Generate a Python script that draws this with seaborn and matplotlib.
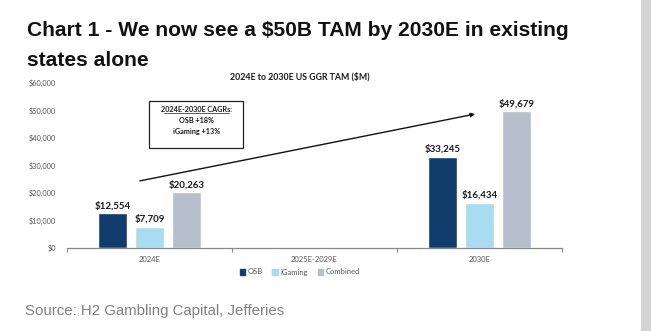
import matplotlib
matplotlib.use("Agg")
import matplotlib.pyplot as plt
import matplotlib.patches as mpatches
import matplotlib.ticker as mticker
import seaborn as sns
import pandas as pd

# Data ($M)
periods = ["2024E", "2025E-2029E", "2030E"]
segments = ["OSB", "iGaming", "Combined"]
osb = [12554, None, 33245]
igaming = [7709, None, 16434]
combined = [20263, None, 49679]
y_ticks = [0, 10000, 20000, 30000, 40000, 50000, 60000]

colors = {"OSB": "#113d6c", "iGaming": "#a8dcf1", "Combined": "#b5bfcb"}

rows = []
for seg, vals in zip(segments, [osb, igaming, combined]):
    for p, v in zip(periods, vals):
        if v is not None:
            rows.append({"period": p, "segment": seg, "value": v})
df = pd.DataFrame(rows)

sns.set_theme(style="white")
plt.rcParams["font.family"] = ["Lato", "DejaVu Sans"]

fig = plt.figure(figsize=(6.51, 3.31), dpi=100)
fig.patch.set_facecolor("white")
ax = fig.add_axes([0.1029, 0.2508, 0.7604, 0.4985])

sns.barplot(data=df, x="period", y="value", hue="segment", order=periods,
            hue_order=segments, palette=colors, width=0.67, gap=0.2,
            saturation=1, ax=ax, legend=False)

for cont in ax.containers:
    ax.bar_label(cont, labels=[f"${v:,.0f}" for v in cont.datavalues],
                 padding=2, fontsize=7, fontweight="bold", color="#1a1a1a")

ax.set_xlim(-0.5, 2.5)
ax.set_ylim(0, 60000)
ax.set_yticks(y_ticks)
ax.yaxis.set_major_formatter(mticker.FuncFormatter(lambda v, _: f"${v:,.0f}"))
ax.tick_params(axis="y", labelsize=5.3, labelcolor="#555555", length=0, pad=8)
ax.tick_params(axis="x", labelsize=5.5, labelcolor="#555555", length=0, pad=6)
ax.set_xticks(range(len(periods)))
ax.set_xticklabels(periods)
ax.xaxis.set_minor_locator(mticker.FixedLocator([-0.5, 0.5, 1.5, 2.5]))
ax.tick_params(axis="x", which="minor", length=3, color="#888888", width=0.8,
               direction="out", bottom=True)
ax.set_xlabel("")
ax.set_ylabel("")
for s in ["top", "right", "left"]:
    ax.spines[s].set_visible(False)
ax.spines["bottom"].set_color("#888888")
ax.spines["bottom"].set_linewidth(0.9)
ax.grid(False)

# Chart heading
ax.text(0.47, 1.01, "2024E to 2030E US GGR TAM ($M)", transform=ax.transAxes,
        ha="center", va="bottom", fontsize=6.3, fontweight="bold", color="#1a1a1a")

# Growth arrow
ax.annotate("", xy=(1.973, 48700), xytext=(-0.058, 24400),
            arrowprops=dict(arrowstyle="-|>", color="#111111", lw=1.0,
                            mutation_scale=6, shrinkA=0, shrinkB=0))

# CAGR box
box = mpatches.Rectangle((-0.0, 36500), 0.565, 16800, fill=False,
                         edgecolor="#222222", lw=0.9, zorder=3)
ax.add_patch(box)
ax.text(0.2825, 50200, "2024E-2030E CAGRs:", ha="center", va="center",
        fontsize=5.2, fontweight="bold", color="#1a1a1a")
ax.plot([0.085, 0.48], [49000, 49000], color="#1a1a1a", lw=0.5)
ax.text(0.2825, 46300, "OSB +18%", ha="center", va="center",
        fontsize=5.2, fontweight="bold", color="#1a1a1a")
ax.text(0.2825, 42300, "iGaming +13%", ha="center", va="center",
        fontsize=5.2, fontweight="bold", color="#1a1a1a")

# Legend
handles = [mpatches.Patch(color=colors[s], label=s) for s in segments]
fig.legend(handles=handles, loc="center", bbox_to_anchor=(300 / 651, 1 - 272 / 331),
           ncol=3, frameon=False, fontsize=5.5, handlelength=0.7, handleheight=0.7,
           handletextpad=0.4, columnspacing=1.2, labelcolor="#555555")

# Title and source
fig.text(27 / 651, 1 - 31 / 331, "Chart 1 - We now see a $50B TAM by 2030E in existing",
         ha="left", va="center", fontsize=15.1, fontweight="bold",
         family="Liberation Sans", color="#111111")
fig.text(27 / 651, 1 - 61 / 331, "states alone", ha="left", va="center",
         fontsize=15.1, fontweight="bold", family="Liberation Sans", color="#111111")
fig.text(25 / 651, 1 - 311 / 331, "Source: H2 Gambling Capital, Jefferies",
         ha="left", va="center", fontsize=10.8, family="Liberation Sans", color="#808080")

# Side panel strip
fig.add_artist(mpatches.Rectangle((641 / 651, 0), 10 / 651, 1, transform=fig.transFigure,
                                  facecolor="#d4d4d4", edgecolor="none"))

fig.savefig("out.png", dpi=100, facecolor="white")
